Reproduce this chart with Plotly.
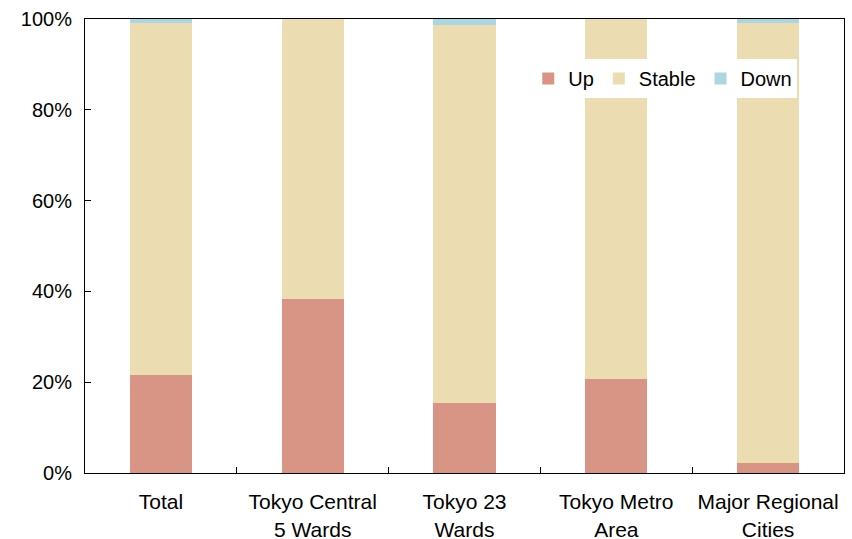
import plotly.graph_objects as go

categories = ["Total", "Tokyo Central<br>5 Wards", "Tokyo 23<br>Wards",
              "Tokyo Metro<br>Area", "Major Regional<br>Cities"]
up = [21.5, 38.4, 15.4, 20.6, 2.3]
stable = [77.6, 61.6, 83.3, 79.4, 96.8]
down = [0.9, 0.0, 1.3, 0.0, 0.9]

colors = {"Up": "#D89585", "Stable": "#ECDCB1", "Down": "#ADD6E0"}

fig = go.Figure()
for name, vals in [("Up", up), ("Stable", stable), ("Down", down)]:
    fig.add_trace(go.Bar(
        x=categories, y=[v / 100 for v in vals], name=name,
        marker=dict(color=colors[name], line=dict(width=0)),
    ))

font = dict(family="Liberation Sans, Arial, sans-serif", size=20, color="#000")
xfont = dict(family="Liberation Sans, Arial, sans-serif", size=21, color="#000")

fig.update_layout(
    barmode="stack",
    bargap=0.59,
    width=852, height=539,
    margin=dict(l=85, r=8, t=19, b=66),
    paper_bgcolor="white", plot_bgcolor="white",
    font=font,
    showlegend=True,
    legend=dict(
        orientation="h", x=0.584, y=0.912, xanchor="left", yanchor="top",
        bgcolor="white", font=dict(size=20), traceorder="normal",
        itemwidth=30, tracegroupgap=0,
    ),
    xaxis=dict(
        showline=True, linecolor="#000", linewidth=1, mirror=True,
        ticks="inside", ticklen=6, tickcolor="#000", tickson="boundaries",
        showgrid=False, tickfont=xfont, ticklabelstandoff=10, automargin=False,
    ),
    yaxis=dict(
        range=[0, 1], tickvals=[0, 0.2, 0.4, 0.6, 0.8, 1.0],
        tickformat=".0%", showline=True, linecolor="#000", linewidth=1,
        mirror=True, ticks="inside", ticklen=6, tickcolor="#000",
        showgrid=False, zeroline=False, tickfont=font, ticklabelstandoff=8,
        automargin=False,
    ),
)

fig.write_html("out.html")
